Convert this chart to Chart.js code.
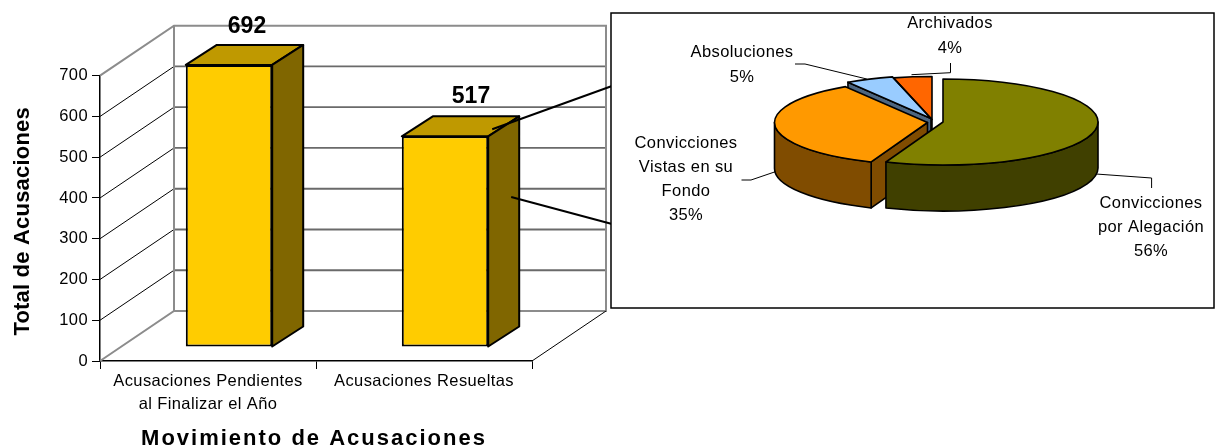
<!DOCTYPE html>
<html><head><meta charset="utf-8">
<style>html,body{margin:0;padding:0;background:#fff;overflow:hidden}
canvas{position:absolute;left:0;top:0}</style>
<script src="https://cdn.jsdelivr.net/npm/chart.js@4/dist/chart.umd.min.js"></script>
</head><body>
<canvas id="bars" width="1217" height="448"></canvas>
<canvas id="pie" width="1217" height="448"></canvas>
<script>
const barCategories = [["Acusaciones Pendientes","al Finalizar el Año"],"Acusaciones Resueltas"];
const barValues = [692,517];
const yAxisTitle = "Total de Acusaciones";
const xAxisTitle = "Movimiento de Acusaciones";
const pieCategories = [["Convicciones","por Alegación"],["Convicciones","Vistas en su","Fondo"],["Absoluciones"],["Archivados"]];
const pieValues = [56,35,5,4];
const pieColors = ["#808000","#FF9900","#99CCFF","#FF6600"];
const pieSideColors = ["#404000","#804C00","#4D6680","#803300"];
const pieNudge = [[8.5,1],[-7,1.5],[-3.5,-2.5],[-2.5,-1.5]];
const pieRimTrim = [0,2,0,0];
const FONT = '"Liberation Sans", Arial, sans-serif';

const WALL = {dx:74, dy:-50};
const BAR_SHIFT = {dx:21, dy:-14};
const BAR_DEPTH = {dx:31, dy:-20};
const LABEL_DX = [18,26];
const LABEL_DY = [-38,-40];
const TEXT_SPACING = "0.4px";

function line(ctx,pts,color,w){
  ctx.beginPath();ctx.strokeStyle=color;ctx.lineWidth=w;
  pts.forEach((p,i)=>i?ctx.lineTo(p[0],p[1]):ctx.moveTo(p[0],p[1]));
  ctx.stroke();
}
function poly(ctx,pts,fill,w){
  ctx.beginPath();pts.forEach((p,i)=>i?ctx.lineTo(p[0],p[1]):ctx.moveTo(p[0],p[1]));
  ctx.closePath();ctx.fillStyle=fill;ctx.fill();
  ctx.strokeStyle="#000";ctx.lineWidth=w||2;ctx.lineJoin="round";ctx.stroke();
}
const spaced = (sp,dx,dy)=>function(scale){
  if(!scale._spaced){
    const o=scale.drawTitle;
    scale.drawTitle=function(){const c=this.ctx;c.save();c.translate(dx,dy);c.letterSpacing=sp;o.call(this);c.restore();};
    scale._spaced=true;
  }
};
const plugin3D = {
  id:"walls3d",
  beforeDraw(chart){chart.ctx.letterSpacing=TEXT_SPACING;},
  beforeDatasetsDraw(chart){
    const ctx=chart.ctx,{x,y}=chart.scales,{left:l,right:r,top:t,bottom:b}=chart.chartArea;
    const d=WALL,gray="#8c8c8c";
    y.ticks.forEach(tk=>{
      const py=y.getPixelForValue(tk.value);
      if(tk.value>0&&tk.value<700){
        line(ctx,[[l,py],[l+d.dx,py+d.dy]],"#000",1);
        line(ctx,[[l+d.dx,py+d.dy],[r+d.dx,py+d.dy]],"#6a6a6a",1.8);
      }
    });
    line(ctx,[[l,t],[l+d.dx,t+d.dy],[r+d.dx,t+d.dy],[r+d.dx,b+d.dy],[l+d.dx,b+d.dy],[l,b]],gray,2);
    line(ctx,[[l+d.dx,t+d.dy],[l+d.dx,b+d.dy]],gray,2);
    line(ctx,[[r,b],[r+d.dx,b+d.dy]],"#000",1);
    ctx.save();ctx.translate(BAR_SHIFT.dx,BAR_SHIFT.dy);
  },
  afterDatasetsDraw(chart){
    const ctx=chart.ctx;ctx.restore();
    const bd=BAR_DEPTH,s=BAR_SHIFT;
    chart.getDatasetMeta(0).data.forEach((el,i)=>{
      const hw=el.width/2,x0=el.x-hw+s.dx,x1=el.x+hw+s.dx,yT=el.y+s.dy,yB=el.base+s.dy;
      poly(ctx,[[x0,yT],[x1,yT],[x1+bd.dx,yT+bd.dy],[x0+bd.dx,yT+bd.dy]],"#BF9900");
      poly(ctx,[[x1,yT],[x1+bd.dx,yT+bd.dy],[x1+bd.dx,yB+bd.dy],[x1,yB]],"#806600");
      ctx.fillStyle="#000";ctx.font="bold 23px "+FONT;ctx.textAlign="center";ctx.textBaseline="middle";
      ctx.letterSpacing="0px";
      ctx.fillText(String(barValues[i]),el.x+s.dx+LABEL_DX[i],el.y+s.dy+LABEL_DY[i]);
      ctx.letterSpacing=TEXT_SPACING;
    });
    const b2=chart.getDatasetMeta(0).data[1];
    const sx=b2.x+b2.width/2+s.dx;
    line(ctx,[[sx+4,b2.y+s.dy-7],[612,86]],"#000",2);
    line(ctx,[[sx+23,197],[612,224]],"#000",2);
  }
};
new Chart(document.getElementById("bars"),{
  type:"bar",
  data:{labels:barCategories,datasets:[{data:barValues,backgroundColor:"#FFCC00",borderColor:"#000",borderWidth:2,borderSkipped:false,barPercentage:0.5,categoryPercentage:0.8}]},
  options:{
    responsive:false,animation:false,
    layout:{padding:{left:0,right:685,top:75.7,bottom:0}},
    plugins:{legend:{display:false},tooltip:{enabled:false}},
    scales:{
      x:{grid:{drawOnChartArea:false,color:"#000",tickLength:8,lineWidth:1},border:{color:"#000",width:1.5},
         ticks:{color:"#000",font:{family:FONT,size:16.5,lineHeight:1.4},padding:1,maxRotation:0,autoSkip:false},
         title:{display:true,text:xAxisTitle,color:"#000",font:{family:FONT,size:22,weight:"bold",lineHeight:1},padding:0},
         afterFit(s){s.height=87;spaced("2px",-2,2)(s);}},
      y:{min:0,max:700,grid:{drawOnChartArea:false,color:"#000",tickLength:8,lineWidth:1},border:{color:"#000",width:1.5},
         ticks:{stepSize:100,color:"#000",font:{family:FONT,size:16.5},padding:4},
         title:{display:true,text:yAxisTitle,color:"#000",font:{family:FONT,size:22,weight:"bold",lineHeight:1},padding:{top:10,bottom:0}},
         afterFit(s){s.width=100;spaced("0.2px",2,3)(s);}}
    }
  },
  plugins:[plugin3D]
});

const TILT=43/155, PIE_DEPTH=46, PIE_LINE=1.6;
const pieLabelLayout=[
  {x:1151,y:[203,227,251],lead:[[1096,174],[1151.6,178],[1151.6,188]]},
  {x:686,y:[143,167,191,215],lead:[[741.5,180],[751,180],[775.4,171.7]]},
  {x:742,y:[52,77],lead:[[795,64],[805,64],[866.8,79]]},
  {x:950,y:[23,48],lead:[[911.5,74.7],[950.5,72.7],[950.5,63]]}
];
const piePlugin={
  id:"pie3d",
  beforeDraw(chart){
    const c=chart.ctx;c.letterSpacing=TEXT_SPACING;
    c.fillStyle="#fff";c.fillRect(611,13,603,295);
    c.strokeStyle="#000";c.lineWidth=1.5;c.strokeRect(611,13,603,295);
  },
  afterDatasetsUpdate(chart){
    chart.getDatasetMeta(0).data.forEach((a,i)=>{
      a.x+=pieNudge[i][0];a.y+=pieNudge[i][1]/TILT;a.outerRadius-=pieRimTrim[i];
    });
    chart._cy=(chart.chartArea.top+chart.chartArea.bottom)/2;
  },
  beforeDatasetsDraw(chart){
    const ctx=chart.ctx,cy0=chart._cy,arcs=chart.getDatasetMeta(0).data;
    const sy=y=>cy0+(y-cy0)*TILT;
    [3,2,1,0].forEach(i=>{
      const a=arcs[i],cx=a.x,cy=sy(a.y),R=a.outerRadius,ry=R*TILT;
      const px=t=>cx+R*Math.cos(t),py=t=>cy+ry*Math.sin(t);
      // only the cut face that looks toward the viewer is drawn
      if(Math.cos(a.startAngle)<-1e-6){
        const t=a.startAngle;
        poly(ctx,[[cx,cy],[px(t),py(t)],[px(t),py(t)+PIE_DEPTH],[cx,cy+PIE_DEPTH]],pieSideColors[i],PIE_LINE);
      }
      if(Math.cos(a.endAngle)>1e-6){
        const t=a.endAngle;
        poly(ctx,[[cx,cy],[px(t),py(t)],[px(t),py(t)+PIE_DEPTH],[cx,cy+PIE_DEPTH]],pieSideColors[i],PIE_LINE);
      }
      const segs=[];
      for(const k of [0,2]){
        const lo=Math.max(a.startAngle,k*Math.PI),hi=Math.min(a.endAngle,k*Math.PI+Math.PI);
        if(hi>lo)segs.push([lo,hi]);
      }
      segs.forEach(([lo,hi])=>{
        ctx.beginPath();
        ctx.ellipse(cx,cy,R,ry,0,lo,hi,false);
        ctx.ellipse(cx,cy+PIE_DEPTH,R,ry,0,hi,lo,true);
        ctx.closePath();ctx.fillStyle=pieSideColors[i];ctx.fill();
        ctx.strokeStyle="#000";ctx.lineWidth=PIE_LINE;ctx.stroke();
      });
    });
    ctx.save();ctx.translate(0,cy0);ctx.scale(1,TILT);ctx.translate(0,-cy0);
  },
  afterDatasetsDraw(chart){
    const ctx=chart.ctx,cy0=chart._cy;ctx.restore();
    chart.getDatasetMeta(0).data.forEach((a,i)=>{
      const cy=cy0+(a.y-cy0)*TILT,R=a.outerRadius;
      ctx.beginPath();ctx.moveTo(a.x,cy);
      ctx.ellipse(a.x,cy,R,R*TILT,0,a.startAngle,a.endAngle,false);
      ctx.closePath();ctx.strokeStyle="#000";ctx.lineWidth=PIE_LINE;ctx.lineJoin="round";ctx.stroke();
    });
    ctx.fillStyle="#000";ctx.font="16.5px "+FONT;ctx.textAlign="center";ctx.textBaseline="middle";
    pieCategories.forEach((lines,i)=>{
      const L=pieLabelLayout[i];
      lines.concat([pieValues[i]+"%"]).forEach((t,j)=>ctx.fillText(t,L.x,L.y[j]));
      line(ctx,L.lead,"#000",1);
    });
  }
};
new Chart(document.getElementById("pie"),{
  type:"pie",
  data:{labels:pieCategories.map(l=>l.join(" ")),datasets:[{data:pieValues,backgroundColor:pieColors,borderWidth:0,radius:155}]},
  options:{
    responsive:false,animation:false,
    layout:{padding:{left:652,right:0,top:0,bottom:206}},
    plugins:{legend:{display:false},tooltip:{enabled:false}}
  },
  plugins:[piePlugin]
});
</script>
</body></html>
